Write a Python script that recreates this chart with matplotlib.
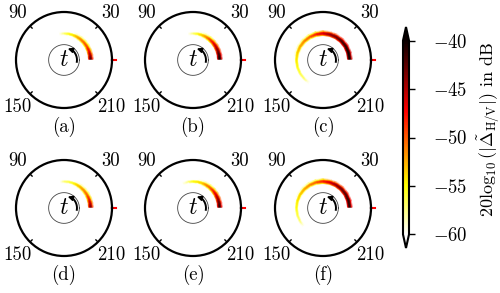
import numpy as np
import matplotlib
matplotlib.use("Agg")
import matplotlib.pyplot as plt
from matplotlib.colors import Normalize

plt.rcParams["font.family"] = "serif"
plt.rcParams["font.serif"] = ["cmr10"]
plt.rcParams["mathtext.fontset"] = "cm"
plt.rcParams["axes.unicode_minus"] = False

# Data: angular samples (deg) and peak level (dB) along each arc
panel_labels = ["(a)", "(b)", "(c)", "(d)", "(e)", "(f)"]
angle_labels = ["30", "90", "150", "210"]
angle_pos = [45, 135, 225, 315]

theta_a = [2, 10, 20, 30, 40, 50, 60, 70, 80, 90, 100]
db_a = [-42, -44, -47, -49, -50, -51, -52, -54, -55, -57, -60]
theta_b = [2, 10, 20, 30, 40, 50, 60, 70, 80, 90, 100]
db_b = [-40, -41, -43, -45, -47, -49, -51, -53, -55, -57, -60]
theta_c = [2, 15, 30, 45, 60, 75, 90, 105, 120, 135, 150, 165, 180, 195, 210, 225, 238]
db_c = [-40, -40, -41, -42, -43, -44, -46, -48, -50, -51, -52, -53, -54, -55, -56, -57, -60]
theta_d = [2, 10, 20, 30, 40, 50, 60, 70, 80, 90, 98]
db_d = [-43, -45, -48, -50, -51, -52, -53, -55, -56, -57, -60]
theta_e = [2, 10, 20, 30, 40, 50, 60, 70, 80, 90, 100, 112]
db_e = [-41, -42, -44, -46, -48, -50, -51, -53, -54, -55, -57, -60]
theta_f = [2, 15, 30, 45, 60, 75, 90, 105, 120, 135, 150, 165, 180, 195, 210, 222]
db_f = [-41, -41, -42, -43, -44, -46, -48, -50, -51, -52, -53, -54, -55, -56, -57, -60]

# radial profile across the arc (offset in r units, attenuation in dB)
r_offsets = [-0.06, -0.04, -0.02, 0.0, 0.02, 0.04, 0.06]
r_atten = [-20, -6, -1.5, 0, -1.5, -6, -20]
arc_radius = 0.56

thetas = [theta_a, theta_b, theta_c, theta_d, theta_e, theta_f]
dbs = [db_a, db_b, db_c, db_d, db_e, db_f]

vmin, vmax = -60, -40
cmap = plt.get_cmap("hot_r")
norm = Normalize(vmin=vmin, vmax=vmax)

fig = plt.figure(figsize=(5.0, 2.93), dpi=100)
W, H = 500, 293
R = 48
centers_x = [64, 193, 323]
centers_y = [60, 208]
fs = 13.5

for i in range(6):
    cx = centers_x[i % 3]
    cy = centers_y[i // 3]
    ax = fig.add_axes([(cx - R) / W, 1 - (cy + R) / H, 2 * R / W, 2 * R / H],
                      projection="polar")
    ax.set_ylim(0, 1)
    ax.set_yticks([])
    ax.set_xticks([])
    ax.grid(False)
    ax.spines["polar"].set_linewidth(1.6)

    th = np.deg2rad(np.array(thetas[i]))
    rr = arc_radius + np.array(r_offsets)
    TH, RR = np.meshgrid(th, rr)
    Z = np.array(dbs[i])[None, :] + np.array(r_atten)[:, None]
    Z = np.clip(Z, vmin, vmax)
    ax.pcolormesh(TH, RR, Z, cmap=cmap, norm=norm, shading="gouraud")

    # small ticks on the rim
    for a in angle_pos:
        ax.plot([np.deg2rad(a)] * 2, [0.94, 1.0], color="k", lw=1)
    for a, lab in zip(angle_pos, angle_labels):
        ax.text(np.deg2rad(a), 1.38, lab, ha="center", va="center",
                fontsize=fs, clip_on=False)
    # red marker at 0 deg
    ax.plot([0, 0], [1.0, 1.08], color="red", lw=1.5, clip_on=False)

    # inner circle with t and rotation arrow
    circ = np.linspace(0, 2 * np.pi, 200)
    ax.plot(circ, np.full_like(circ, 0.32), color="#444444", lw=0.6)
    ax.text(0, 0, "$t$", ha="center", va="center", fontsize=17)
    arr = np.deg2rad(np.linspace(-8, 55, 30))
    ax.plot(arr, np.full_like(arr, 0.27), color="k", lw=1.4)
    ax.annotate("", xy=(np.deg2rad(72), 0.25), xytext=(np.deg2rad(50), 0.27),
                arrowprops=dict(arrowstyle="-|>", color="k", lw=1.2,
                                mutation_scale=7, shrinkA=0, shrinkB=0))

    ax.text(0.5, -0.2, panel_labels[i], transform=ax.transAxes,
            ha="center", va="center", fontsize=fs)

# colorbar
cax = fig.add_axes([403 / W, 1 - 248 / H, 6 / W, 221 / H])
sm = plt.cm.ScalarMappable(norm=norm, cmap=cmap)
cb = fig.colorbar(sm, cax=cax, extend="both", extendfrac=0.07)
cb.outline.set_linewidth(1.5)
ticks = [-40, -45, -50, -55, -60]
cb.set_ticks(ticks)
cb.set_ticklabels([f"$-{abs(t)}$" for t in ticks])
cax.tick_params(length=4.5, width=1, labelsize=fs, pad=13)
cb.set_label(r"$20\log_{10}(|\tilde{\Delta}_{\mathrm{H/V}}|)$ in dB",
             fontsize=13)
cax.yaxis.set_label_coords(12.0, 0.54)

fig.savefig("out.png", dpi=100)
